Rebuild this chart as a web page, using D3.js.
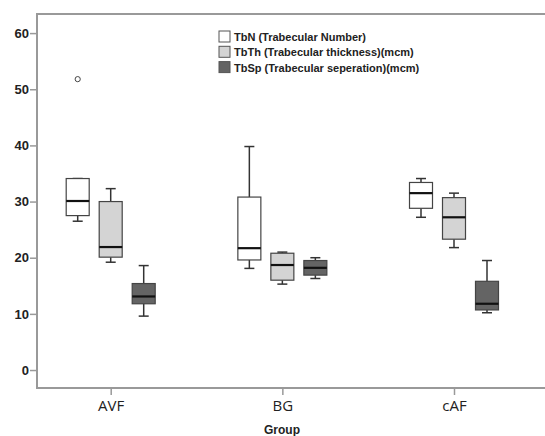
<!DOCTYPE html>
<html>
<head>
<meta charset="utf-8">
<title>Trabecular box plot</title>
<style>
  html, body { margin: 0; padding: 0; background: #fff; overflow: hidden; }
  svg { display: block; }
  text { font-family: "Liberation Sans", Arial, sans-serif; }
</style>
</head>
<body>
<div id="chart"></div>
<script src="https://d3js.org/d3.v7.min.js"></script>
<script>
  // groups on the x axis
  var groups = ['AVF', 'BG', 'cAF'];
  var series = ['TbN (Trabecular Number)', 'TbTh (Trabecular thickness)(mcm)', 'TbSp (Trabecular seperation)(mcm)'];
  var fills = ['#ffffff', '#d4d4d4', '#646464'];
  var yTicks = [0, 10, 20, 30, 40, 50, 60];

  // [whiskerLow, q1, median, q3, whiskerHigh] per group, one array per series
  var tbn  = [[26.5, 27.5, 30.1, 34.1, 34.1], [18.1, 19.6, 21.7, 30.8, 39.8], [27.2, 28.8, 31.5, 33.4, 34.1]];
  var tbth = [[19.2, 20.1, 21.9, 30.0, 32.3], [15.3, 16.0, 18.7, 20.8, 21.0], [21.8, 23.3, 27.2, 30.7, 31.5]];
  var tbsp = [[9.6, 11.8, 13.1, 15.4, 18.6], [16.3, 16.9, 18.2, 19.5, 20.0], [10.2, 10.7, 11.8, 15.8, 19.5]];
  // outliers: [group, series index, value]
  var outliers = [['AVF', 0, 51.8]];

  var stats = [tbn, tbth, tbsp];

  var width = 545, height = 436;
  var mLeft = 37, mTop = 14, mBottom = 388, mRight = 560;

  var svg = d3.select('#chart').append('svg')
    .attr('width', width)
    .attr('height', height);

  var y = d3.scaleLinear().domain([-3.2, 63.4]).range([mBottom, mTop]);
  var x = d3.scalePoint().domain(groups).range([110.7, 454]);
  var offset = d3.scalePoint().domain([0, 1, 2]).range([-33, 33]);
  var boxW = 23, capW = 10;

  // frame: top, left and bottom edges only, running off the right side
  svg.append('path')
    .attr('d', 'M' + mRight + ',' + mTop + 'H' + mLeft + 'V' + mBottom + 'H' + mRight)
    .attr('fill', 'none')
    .attr('stroke', '#999').attr('stroke-width', 2);

  // y axis
  var yAxis = svg.append('g')
    .attr('transform', 'translate(' + mLeft + ',0)')
    .call(d3.axisLeft(y).tickValues(yTicks).tickSize(7).tickPadding(1));
  yAxis.select('.domain').remove();
  yAxis.selectAll('.tick line').attr('stroke', '#999').attr('stroke-width', 1.5);
  yAxis.selectAll('.tick text')
    .attr('fill', '#222')
    .style('font-size', '13px')
    .style('font-weight', 'bold')
    .style('font-family', '"Liberation Sans", Arial, sans-serif');

  // x axis
  var xAxis = svg.append('g')
    .attr('transform', 'translate(0,' + mBottom + ')')
    .call(d3.axisBottom(x).tickSize(7).tickPadding(5));
  xAxis.select('.domain').remove();
  xAxis.selectAll('.tick line').attr('stroke', '#999').attr('stroke-width', 1.5);
  xAxis.selectAll('.tick text')
    .attr('fill', '#222')
    .style('font-size', '15px')
    .style('font-family', '"Open Sans", sans-serif');

  svg.append('text')
    .attr('x', 282).attr('y', 434)
    .attr('text-anchor', 'middle')
    .attr('fill', '#222')
    .style('font-size', '12px')
    .style('font-weight', 'bold')
    .text('Group');

  // boxes
  stats.forEach(function(rows, si) {
    var g = svg.append('g');
    rows.forEach(function(d, gi) {
      var cx = x(groups[gi]) + offset(si);
      var stroke = '#333';
      // whiskers
      g.append('line').attr('x1', cx).attr('x2', cx).attr('y1', y(d[3])).attr('y2', y(d[4]))
        .attr('stroke', stroke).attr('stroke-width', 1.5);
      g.append('line').attr('x1', cx).attr('x2', cx).attr('y1', y(d[0])).attr('y2', y(d[1]))
        .attr('stroke', stroke).attr('stroke-width', 1.5);
      g.append('line').attr('x1', cx - capW / 2).attr('x2', cx + capW / 2).attr('y1', y(d[4])).attr('y2', y(d[4]))
        .attr('stroke', stroke).attr('stroke-width', 1.5);
      g.append('line').attr('x1', cx - capW / 2).attr('x2', cx + capW / 2).attr('y1', y(d[0])).attr('y2', y(d[0]))
        .attr('stroke', stroke).attr('stroke-width', 1.5);
      // box
      g.append('rect')
        .attr('x', cx - boxW / 2).attr('width', boxW)
        .attr('y', y(d[3])).attr('height', y(d[1]) - y(d[3]))
        .attr('fill', fills[si]).attr('stroke', '#444').attr('stroke-width', 1.2);
      // median
      g.append('line').attr('x1', cx - boxW / 2).attr('x2', cx + boxW / 2).attr('y1', y(d[2])).attr('y2', y(d[2]))
        .attr('stroke', '#111').attr('stroke-width', 2.2);
    });
  });

  svg.selectAll('.outlier')
    .data(outliers)
    .enter().append('circle')
    .attr('class', 'outlier')
    .attr('cx', function(d) { return x(d[0]) + offset(d[1]); })
    .attr('cy', function(d) { return y(d[2]); })
    .attr('r', 2.6)
    .attr('fill', '#fff')
    .attr('stroke', '#444')
    .attr('stroke-width', 1);

  // legend
  var legend = svg.append('g').attr('transform', 'translate(219,31)');
  series.forEach(function(s, i) {
    legend.append('rect')
      .attr('x', 0).attr('y', i * 15.3)
      .attr('width', 11).attr('height', 11)
      .attr('fill', fills[i]).attr('stroke', '#555').attr('stroke-width', 1);
    legend.append('text')
      .attr('x', 15).attr('y', i * 15.3 + 10)
      .attr('fill', '#222')
      .style('font-size', '11px')
      .style('font-weight', 'bold')
      .text(s);
  });
</script>
</body>
</html>
